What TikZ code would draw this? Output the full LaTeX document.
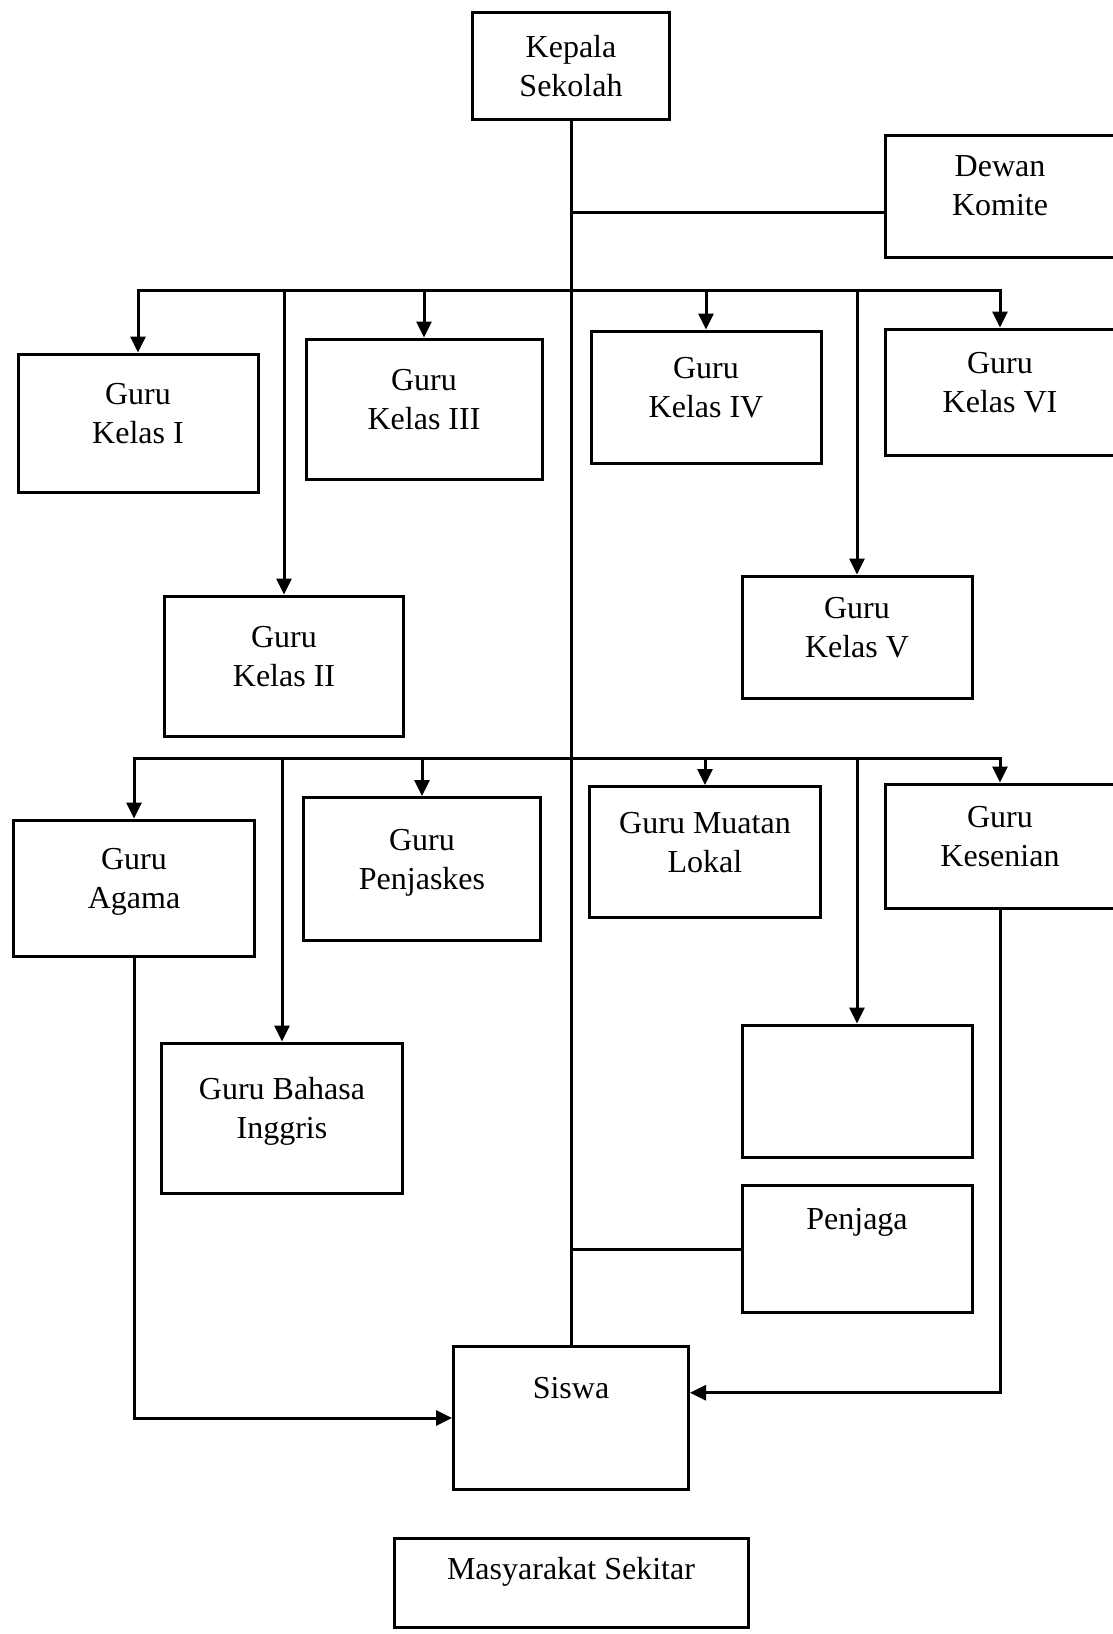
\documentclass[tikz,border=0pt]{standalone}
\usepackage{fontspec}
\setmainfont{Liberation Serif}
\usetikzlibrary{arrows.meta}

\begin{document}
\begin{tikzpicture}[x=1pt,y=-1pt,font=\fontsize{32}{39}\selectfont,box/.style={draw,line width=3pt,align=center,inner xsep=0pt,inner ysep=12pt,text depth=20pt},topbox/.style={box,text depth=60pt},conn/.style={line width=3pt},arr/.style={-{Triangle[length=16pt,width=15pt]},line width=3pt}]
\useasboundingbox (0,0) rectangle (1112,1634);
\node[box,text depth=0pt,minimum width=197pt,minimum height=107pt] (kepala) at (571,66){Kepala\\Sekolah};
\node[box,minimum width=230pt,minimum height=122pt] (dewan) at (1000,196){Dewan\\Komite};
\node[box,minimum width=240pt,minimum height=138pt] (kelas1) at (138,423){Guru\\Kelas I};
\node[box,minimum width=239pt,minimum height=140pt] (kelas2) at (284,666){Guru\\Kelas II};
\node[box,minimum width=236pt,minimum height=140pt] (kelas3) at (424,409){Guru\\Kelas III};
\node[box,minimum width=230pt,minimum height=132pt] (kelas4) at (706,397){Guru\\Kelas IV};
\node[box,minimum width=230pt,minimum height=122pt] (kelas5) at (857,637){Guru\\Kelas V};
\node[box,minimum width=230pt,minimum height=126pt] (kelas6) at (1000,392){Guru\\Kelas VI};
\node[box,minimum width=241pt,minimum height=136pt] (agama) at (134,888){Guru\\Agama};
\node[box,minimum width=241pt,minimum height=150pt] (inggris) at (282,1118){Guru Bahasa\\Inggris};
\node[box,minimum width=237pt,minimum height=143pt] (penjaskes) at (422,869){Guru\\Penjaskes};
\node[box,minimum width=231pt,minimum height=131pt] (mulok) at (705,852){Guru Muatan\\Lokal};
\node[box,minimum width=230pt,minimum height=132pt] (kosong) at (857,1091){};
\node[box,minimum width=230pt,minimum height=124pt] (kesenian) at (1000,846){Guru\\Kesenian};
\node[topbox,minimum width=230pt,minimum height=127pt] (penjaga) at (857,1249){Penjaga};
\node[topbox,minimum width=235pt,minimum height=143pt] (siswa) at (571,1418){Siswa};
\node[box,text depth=29pt,minimum width=354pt,minimum height=89pt] (masyarakat) at (571,1583){Masyarakat Sekitar};
% garis komando
\coordinate (bus1) at (571,290);\coordinate (bus2) at (571,758);
\draw[conn] (kepala) -- (siswa);
\draw[conn] (dewan.188) -- (dewan.188 -| kepala.south);
\draw[arr] (bus1) -| (kelas1);\draw[arr] (bus1) -| (kelas2);\draw[arr] (bus1) -| (kelas3);
\draw[arr] (bus1) -| (kelas4);\draw[arr] (bus1) -| (kelas5);\draw[arr] (bus1) -| (kelas6);
\draw[arr] (bus2) -| (agama);\draw[arr] (bus2) -| (inggris);\draw[arr] (bus2) -| (penjaskes);
\draw[arr] (bus2) -| (mulok);\draw[arr] (bus2) -| (kosong);\draw[arr] (bus2) -| (kesenian);
\draw[conn] (penjaga.west) -- (penjaga.west -| siswa.north);
\draw[arr] (agama.south) |- (siswa.west);
\draw[arr] (kesenian.south) |- (siswa.12);
\end{tikzpicture}
\end{document}
